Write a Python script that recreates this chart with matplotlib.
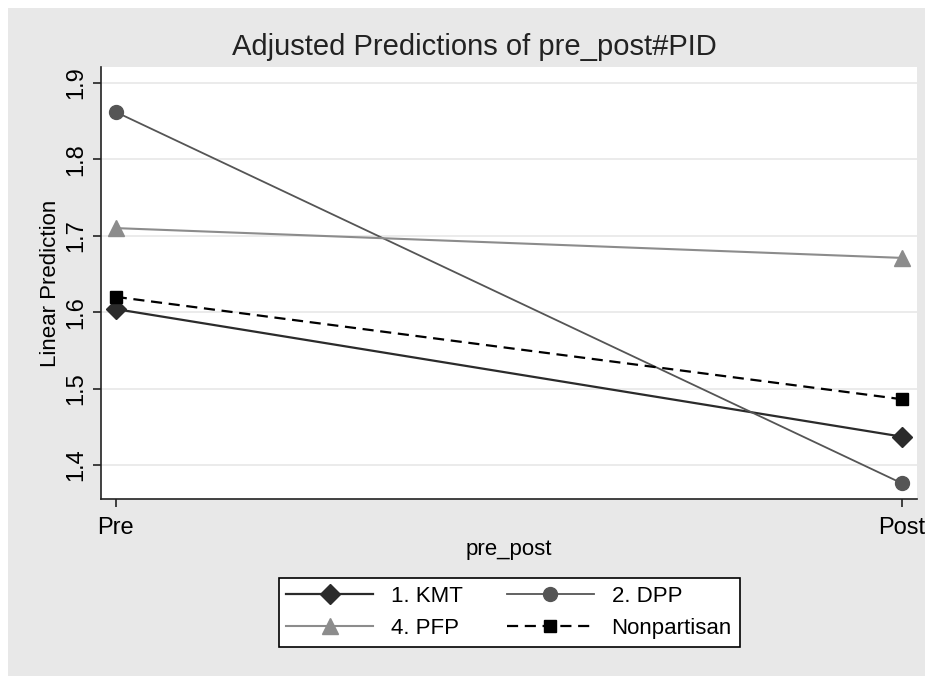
import matplotlib
matplotlib.use("Agg")
import matplotlib.pyplot as plt
from matplotlib.patches import Rectangle

plt.rcParams['font.family'] = ['Liberation Sans', 'DejaVu Sans']

periods = ['Pre', 'Post']
kmt = [1.604, 1.437]
dpp = [1.862, 1.376]
pfp = [1.710, 1.671]
nonpartisan = [1.620, 1.486]
yticks = [1.4, 1.5, 1.6, 1.7, 1.8, 1.9]

fig = plt.figure(figsize=(9.25, 6.76), dpi=100, facecolor='white')
# gray graph region, thin white strip on top and left like the scan
fig.patches.append(Rectangle((8 / 925, 0), 1, 1 - 8 / 676, transform=fig.transFigure,
                             facecolor='#e8e8e8', edgecolor='none', zorder=-10))

ax = fig.add_axes([0.109, 0.262, 0.882, 0.639])
ax.set_facecolor('white')

x = [0, 1]
h_kmt, = ax.plot(x, kmt, color='#2b2b2b', lw=1.6, marker='D', ms=10, label='1. KMT')
h_dpp, = ax.plot(x, dpp, color='#555555', lw=1.3, marker='o', ms=10, label='2. DPP')
h_pfp, = ax.plot(x, pfp, color='#8c8c8c', lw=1.5, marker='^', ms=11, label='4. PFP')
h_non, = ax.plot(x, nonpartisan, color='black', lw=1.6, ls=(0, (5, 3)), marker='s', ms=9,
                 label='Nonpartisan')

ax.set_xlim(-0.019, 1.019)
ax.set_ylim(1.3555, 1.921)
ax.set_xticks(x)
ax.set_xticklabels(periods, fontsize=17)
ax.set_yticks(yticks)
ax.set_yticklabels([f'{v:.1f}' for v in yticks], fontsize=17, rotation=90, va='center')
ax.grid(axis='y', color='#e8e8e8', lw=1.2)
ax.set_axisbelow(True)
for s in ['top', 'right']:
    ax.spines[s].set_visible(False)
for s in ['left', 'bottom']:
    ax.spines[s].set_color('#222222')
    ax.spines[s].set_linewidth(1.2)
ax.tick_params(direction='out', length=6, width=1.2, color='#222222')
ax.tick_params(axis='x', pad=7)

ax.set_xlabel('pre_post', fontsize=16, labelpad=0)
ax.set_ylabel('Linear Prediction', fontsize=16, labelpad=3)
fig.text(0.513, 0.930, 'Adjusted Predictions of pre_post#PID', fontsize=21,
         ha='center', va='center', color='#222222')

# legend rows: KMT, DPP / PFP, Nonpartisan (matplotlib fills by column)
handles = [h_kmt, h_pfp, h_dpp, h_non]
leg = fig.legend(handles=handles, labels=[h.get_label() for h in handles],
                 loc='center', bbox_to_anchor=(0.5503, 0.0939), ncol=2, fontsize=16,
                 frameon=True, fancybox=False, edgecolor='black', framealpha=1,
                 handlelength=3.9, columnspacing=2.0, borderpad=0.35, labelspacing=0.5)
leg.get_frame().set_linewidth(1.2)

fig.savefig('out.png', dpi=100, facecolor=fig.get_facecolor())
